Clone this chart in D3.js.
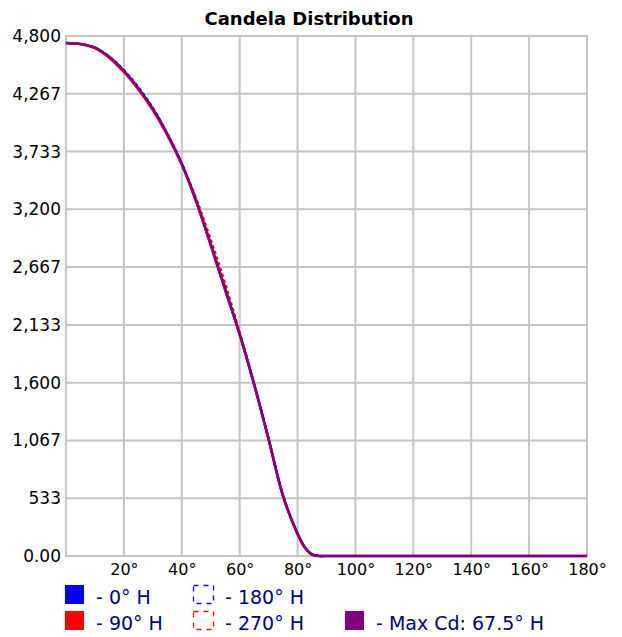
<!DOCTYPE html>
<html>
<head>
<meta charset="utf-8">
<script src="https://cdn.jsdelivr.net/npm/d3@7/dist/d3.min.js"></script>
<style>
  html, body { margin: 0; padding: 0; background: #fff; }
  svg { display: block; }
</style>
</head>
<body>
<svg id="chart" width="622" height="637"></svg>
<script>
// ---- data ----
const angles = [0, 5, 10, 15, 20, 25, 30, 35, 40, 45, 50, 55, 60, 65, 70, 75, 80, 82.5, 85, 87.5, 90, 180];
const h0   = [4735, 4726, 4692, 4605, 4478, 4318, 4128, 3895, 3620, 3275, 2870, 2455, 2045, 1585, 1080, 555, 205, 80, 14, 0, 0, 0];
const h90  = [4735, 4724, 4688, 4598, 4468, 4306, 4116, 3886, 3612, 3270, 2875, 2465, 2048, 1583, 1078, 553, 202, 78, 13, 0, 0, 0];
const h180 = [4735, 4727, 4694, 4610, 4486, 4330, 4140, 3902, 3625, 3290, 2900, 2490, 2060, 1589, 1082, 556, 206, 80, 14, 0, 0, 0];
const h270 = [4735, 4725, 4690, 4602, 4474, 4314, 4124, 3892, 3620, 3300, 2925, 2520, 2070, 1591, 1080, 554, 204, 79, 13, 0, 0, 0];
const hMax = [4735, 4726, 4692, 4605, 4478, 4318, 4128, 3895, 3621, 3280, 2880, 2465, 2050, 1586, 1080, 555, 205, 80, 14, 0, 0, 0];
const xTicks = [20, 40, 60, 80, 100, 120, 140, 160, 180];
const yTicks = [0, 533.33, 1066.67, 1600, 2133.33, 2666.67, 3200, 3733.33, 4266.67, 4800];
const yTickLabels = ["0.00", "533", "1,067", "1,600", "2,133", "2,667", "3,200", "3,733", "4,267", "4,800"];
const seriesNames = ["- 0° H", "- 90° H", "- 180° H", "- 270° H", "- Max Cd: 67.5° H"];

// ---- layout ----
const svg = d3.select("#chart");
const L = 66, R = 587, T = 36, B = 556;
const x = d3.scaleLinear().domain([0, 180]).range([L, R]);
const y = d3.scaleLinear().domain([0, 4800]).range([B, T]);
const grid = "#c4c4c4";
const font = "'DejaVu Sans', Verdana, sans-serif";

// title
svg.append("text")
  .attr("x", 309).attr("y", 25)
  .attr("text-anchor", "middle")
  .attr("font-family", font).attr("font-weight", "bold")
  .attr("font-size", 18).attr("fill", "#000")
  .text("Candela Distribution");

// grid
const g = svg.append("g");
g.selectAll(".vg").data(xTicks).join("line")
  .attr("x1", d => x(d)).attr("x2", d => x(d))
  .attr("y1", T).attr("y2", B)
  .attr("stroke", grid).attr("stroke-width", 2);
g.selectAll(".hg").data(yTicks).join("line")
  .attr("x1", L).attr("x2", R)
  .attr("y1", d => y(d)).attr("y2", d => y(d))
  .attr("stroke", grid).attr("stroke-width", 2);
g.append("rect").attr("x", L).attr("y", T).attr("width", R - L).attr("height", B - T)
  .attr("fill", "none").attr("stroke", grid).attr("stroke-width", 2);

// axes labels using d3 axes
const yAxis = d3.axisLeft(y).tickValues(yTicks).tickSize(0).tickPadding(5)
  .tickFormat((d, i) => yTickLabels[i]);
const ya = svg.append("g").attr("transform", `translate(${L},0)`).call(yAxis);
ya.select(".domain").remove();
ya.selectAll("text").attr("font-family", font).attr("font-size", 17).attr("fill", "#000");

const xAxis = d3.axisBottom(x).tickValues(xTicks).tickSize(0).tickPadding(8)
  .tickFormat(d => d + "°");
const xa = svg.append("g").attr("transform", `translate(0,${B})`).call(xAxis);
xa.select(".domain").remove();
xa.selectAll("text").attr("font-family", font).attr("font-size", 16).attr("fill", "#000");

// lines
const line = d3.line().x((d, i) => x(angles[i])).y(d => y(d)).curve(d3.curveCatmullRom.alpha(0.5));
const series = [
  { v: h0, c: "#0000ff", dash: null, w: 2.6 },
  { v: h90, c: "#ff0000", dash: null, w: 2.6 },
  { v: h180, c: "#0000ff", dash: "3,3", w: 2 },
  { v: h270, c: "#ff0000", dash: "3,3", w: 2 },
  { v: hMax, c: "#800080", dash: null, w: 2.2 }
];
svg.append("g").selectAll("path").data(series).join("path")
  .attr("d", d => line(d.v))
  .attr("fill", "none")
  .attr("stroke", d => d.c)
  .attr("stroke-width", d => d.w)
  .attr("stroke-dasharray", d => d.dash)
  .attr("stroke-linejoin", "round");

// legend
const leg = [
  { sx: 65, cy: 594.5, c: "#0000ff", dash: false, t: seriesNames[0], tx: 96 },
  { sx: 65, cy: 620.5, c: "#ff0000", dash: false, t: seriesNames[1], tx: 96 },
  { sx: 193, cy: 594.5, c: "#0000ff", dash: true, t: seriesNames[2], tx: 225 },
  { sx: 193, cy: 620.5, c: "#ff0000", dash: true, t: seriesNames[3], tx: 225 },
  { sx: 345, cy: 620.5, c: "#800080", dash: false, t: seriesNames[4], tx: 376 }
];
const lg = svg.append("g");
leg.forEach(d => {
  if (d.dash) {
    lg.append("rect").attr("x", d.sx + 0.5).attr("y", d.cy - 9).attr("width", 20).attr("height", 18)
      .attr("fill", "none").attr("stroke", d.c).attr("stroke-width", 1.3).attr("stroke-dasharray", "5,5");
  } else {
    lg.append("rect").attr("x", d.sx).attr("y", d.cy - 9.5).attr("width", 19).attr("height", 19)
      .attr("fill", d.c);
  }
  lg.append("text").attr("x", d.tx).attr("y", d.cy + 9)
    .attr("font-family", font).attr("font-size", 19).attr("fill", "#000080")
    .text(d.t);
});
</script>
</body>
</html>
